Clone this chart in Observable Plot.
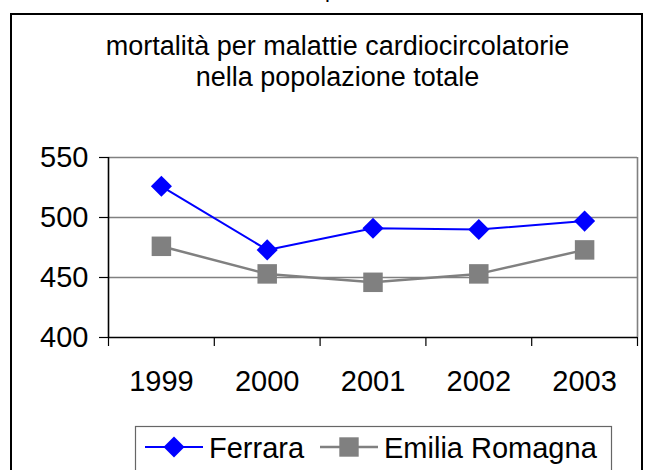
<!DOCTYPE html>
<html>
<head>
<meta charset="utf-8">
<script src="https://cdn.jsdelivr.net/npm/d3@7"></script>
<script src="https://cdn.jsdelivr.net/npm/@observablehq/plot@0.6"></script>
<style>
  html, body { margin: 0; padding: 0; background: #fff; }
  #page { position: relative; width: 647px; height: 470px; overflow: hidden; font-family: "Liberation Sans", Arial, sans-serif; }
  #frame { position: absolute; left: 10px; top: 13px; width: 633px; height: 480px; border: 2px solid #000; box-sizing: border-box; }
  #cut { position: absolute; left: 325px; top: -23px; font-size: 22px; color: #000; }
  #title { position: absolute; left: 0; top: 31px; width: 675px; text-align: center; font-size: 27px; line-height: 31px; color: #000; }
  #chart { position: absolute; left: 0; top: 130px; }
  #legend { position: absolute; left: 0; top: 0; }
</style>
</head>
<body>
<div id="page">
  <div id="cut">p</div>
  <div id="frame"></div>
  <div id="title">mortalità per malattie cardiocircolatorie<br>nella popolazione totale</div>
  <div id="chart"></div>
  <svg id="legend" width="647" height="470"></svg>
</div>
<script>
const years = [1999, 2000, 2001, 2002, 2003];
const ferrara = [526, 473, 491, 490, 497];
const emilia = [476, 453, 446, 453, 473];
const yTicks = [400, 450, 500, 550];
const seriesNames = ["Ferrara", "Emilia Romagna"];

const ferraraRows = years.map((y, i) => ({year: y, value: ferrara[i]}));
const emiliaRows = years.map((y, i) => ({year: y, value: emilia[i]}));
const boundaries = [years[0] - 0.5, ...years.map(y => y + 0.5)];

const BLUE = "#0000ff", GREY = "#808080";

const plot = Plot.plot({
  width: 647,
  height: 270,
  marginLeft: 108,
  marginRight: 10,
  marginTop: 27,
  marginBottom: 63,
  style: {fontFamily: "'Liberation Sans', Arial, sans-serif", fontSize: "29px", color: "#000", background: "transparent"},
  x: {type: "linear", domain: [boundaries[0], boundaries[boundaries.length - 1]]},
  y: {domain: [400, 550]},
  marks: [
    Plot.ruleY(yTicks.slice(1), {stroke: GREY, strokeWidth: 1.6}),
    Plot.ruleX([boundaries[boundaries.length - 1]], {stroke: GREY, strokeWidth: 1.6}),
    Plot.ruleY([400], {stroke: "#000", strokeWidth: 1.6}),
    Plot.ruleX([boundaries[0]], {stroke: "#000", strokeWidth: 1.6}),
    Plot.axisY({ticks: yTicks, tickSize: 9, tickPadding: 11, tickFormat: d => String(d), label: null, stroke: "#000", strokeWidth: 1.2, fontSize: 29}),
    Plot.axisX({ticks: boundaries, tickSize: 9, tickFormat: () => "", label: null, stroke: "#000", strokeWidth: 1.2}),
    Plot.axisX({ticks: years, tickSize: 0, tickPadding: 33, tickFormat: d => String(d), label: null, fontSize: 29}),
    Plot.line(emiliaRows, {x: "year", y: "value", stroke: GREY, strokeWidth: 2.5}),
    Plot.line(ferraraRows, {x: "year", y: "value", stroke: BLUE, strokeWidth: 2}),
    Plot.dot(emiliaRows, {x: "year", y: "value", symbol: "square", r: 11, fill: GREY, stroke: "none"}),
    Plot.dot(ferraraRows, {x: "year", y: "value", symbol: "diamond2", r: 9.5, fill: BLUE, stroke: "none"})
  ]
});
document.getElementById("chart").appendChild(plot);

// legend
const lg = d3.select("#legend");
lg.append("rect").attr("x", 135.5).attr("y", 426.5).attr("width", 476).attr("height", 60)
  .attr("fill", "#fff").attr("stroke", "#666").attr("stroke-width", 1.2);
const items = [
  {name: seriesNames[0], color: BLUE, x0: 145, x1: 203, tx: 209, sym: "diamond"},
  {name: seriesNames[1], color: GREY, x0: 320, x1: 378, tx: 384, sym: "square"}
];
items.forEach(it => {
  lg.append("line").attr("x1", it.x0).attr("x2", it.x1).attr("y1", 447).attr("y2", 447)
    .attr("stroke", it.color).attr("stroke-width", it.sym === "diamond" ? 2 : 2.5);
  const cx = (it.x0 + it.x1) / 2;
  if (it.sym === "diamond") {
    lg.append("path").attr("d", `M${cx},${447-10.5}L${cx+10.5},447L${cx},${447+10.5}L${cx-10.5},447Z`).attr("fill", it.color);
  } else {
    lg.append("rect").attr("x", cx - 9.7).attr("y", 447 - 9.7).attr("width", 19.4).attr("height", 19.4).attr("fill", it.color);
  }
  lg.append("text").attr("x", it.tx).attr("y", 458).attr("font-size", 29)
    .attr("font-family", "'Liberation Sans', Arial, sans-serif").attr("fill", "#000").text(it.name);
});
</script>
</body>
</html>
